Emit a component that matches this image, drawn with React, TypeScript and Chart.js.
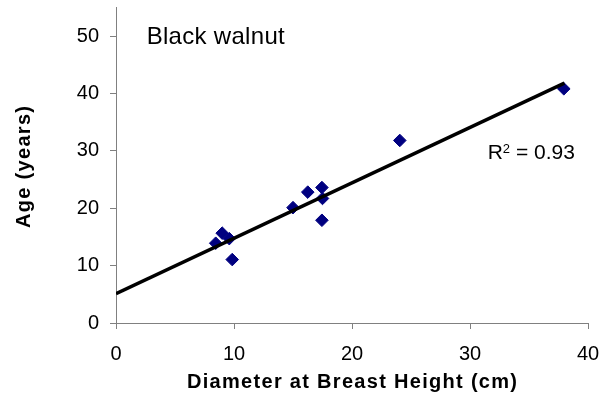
import React, { useEffect, useRef } from 'react';
import { Chart, registerables } from 'chart.js';

Chart.register(...registerables);

// Diameter at breast height (cm)
const dbh = [8.45, 9.0, 9.6, 9.85, 15.0, 16.25, 17.45, 17.5, 17.45, 24.05, 37.95];
// Age (years)
const age = [13.9, 15.65, 14.7, 11.05, 20.1, 22.8, 23.6, 21.7, 17.9, 31.8, 40.8];
// Linear trend line end points
const trendX = [0, 38];
const trendY = [5.1, 41.8];

const yTicks = [0, 10, 20, 30, 40, 50];
const xTicks = [0, 10, 20, 30, 40];

const xTitle = 'Diameter at Breast Height (cm)';
const yTitle = 'Age (years)';
const seriesLabel = 'Black walnut';
const r2Value = '0.93';

const FONT = "'Liberation Sans', Arial, sans-serif";

export default function App() {
  const ref = useRef<HTMLCanvasElement>(null);

  useEffect(() => {
    document.body.style.margin = '0';
    const canvas = ref.current;
    if (!canvas) return;

    const textPlugin = {
      id: 'customTexts',
      afterDraw(chart: any) {
        const { ctx, chartArea, scales } = chart;
        ctx.save();
        ctx.fillStyle = '#000';

        // X axis title
        ctx.font = `bold 20px ${FONT}`;
        (ctx as any).letterSpacing = '1.3px';
        ctx.textAlign = 'center';
        ctx.textBaseline = 'middle';
        ctx.fillText(xTitle, (chartArea.left + chartArea.right) / 2 + 0.65, chartArea.bottom + 59);

        // Y axis title
        ctx.save();
        ctx.translate(chartArea.left - 92, 167);
        ctx.rotate(-Math.PI / 2);
        (ctx as any).letterSpacing = '1.3px';
        ctx.fillText(yTitle, 0.65, 0);
        ctx.restore();

        // Series label
        ctx.font = `24px ${FONT}`;
        (ctx as any).letterSpacing = '0.3px';
        ctx.textAlign = 'left';
        ctx.textBaseline = 'alphabetic';
        ctx.fillText(seriesLabel, scales.x.getPixelForValue(2.6), scales.y.getPixelForValue(48.6));

        // R² annotation
        (ctx as any).letterSpacing = '0px';
        let x = scales.x.getPixelForValue(31.5);
        const base = scales.y.getPixelForValue(28.55);
        ctx.font = `21px ${FONT}`;
        ctx.fillText('R', x, base);
        x += ctx.measureText('R').width;
        ctx.font = `13px ${FONT}`;
        ctx.fillText('2', x, base - 6);
        x += ctx.measureText('2').width;
        ctx.font = `21px ${FONT}`;
        ctx.fillText(' = ' + r2Value, x, base);

        ctx.restore();
      },
    };

    const chart = new Chart(canvas, {
      type: 'scatter',
      data: {
        datasets: [
          {
            type: 'line',
            label: 'trend',
            data: trendX.map((v, i) => ({ x: v, y: trendY[i] })),
            borderColor: '#000',
            borderWidth: 3.5,
            pointRadius: 0,
            fill: false,
            order: 0,
          } as any,
          {
            type: 'scatter',
            label: seriesLabel,
            data: dbh.map((v, i) => ({ x: v, y: age[i] })),
            pointStyle: 'rectRot',
            pointRadius: 6.3,
            backgroundColor: '#000080',
            borderColor: '#000080',
            borderWidth: 1,
            order: 1,
          },
        ],
      },
      options: {
        animation: false,
        responsive: false,
        devicePixelRatio: 1,
        layout: { padding: { top: 6, right: 23, left: 0, bottom: 0 } },
        plugins: {
          legend: { display: false },
          tooltip: { enabled: false },
        },
        scales: {
          x: {
            type: 'linear',
            min: 0,
            max: 40,
            afterBuildTicks: (scale: any) => {
              scale.ticks = xTicks.map((v) => ({ value: v }));
            },
            afterFit: (scale: any) => {
              scale.height = 77;
              scale.paddingLeft = 0;
              scale.paddingRight = 0;
            },
            ticks: {
              color: '#000',
              font: { family: FONT, size: 20 },
              padding: 13,
              maxRotation: 0,
            },
            grid: {
              display: true,
              drawOnChartArea: false,
              drawTicks: true,
              tickLength: 6,
              color: '#808080',
            },
            border: { display: true, color: '#808080', width: 1 },
          },
          y: {
            type: 'linear',
            min: 0,
            max: 55,
            afterBuildTicks: (scale: any) => {
              scale.ticks = yTicks.map((v) => ({ value: v }));
            },
            afterFit: (scale: any) => {
              scale.width = 116;
              scale.paddingTop = 0;
              scale.paddingBottom = 0;
            },
            ticks: {
              color: '#000',
              font: { family: FONT, size: 20 },
              padding: 11,
            },
            grid: {
              display: true,
              drawOnChartArea: false,
              drawTicks: true,
              tickLength: 6,
              color: '#808080',
            },
            border: { display: true, color: '#808080', width: 1 },
          },
        },
      },
      plugins: [textPlugin],
    });

    return () => chart.destroy();
  }, []);

  return (
    <div style={{ width: 611, height: 400 }}>
      <canvas ref={ref} width={611} height={400} style={{ display: 'block' }} />
    </div>
  );
}
